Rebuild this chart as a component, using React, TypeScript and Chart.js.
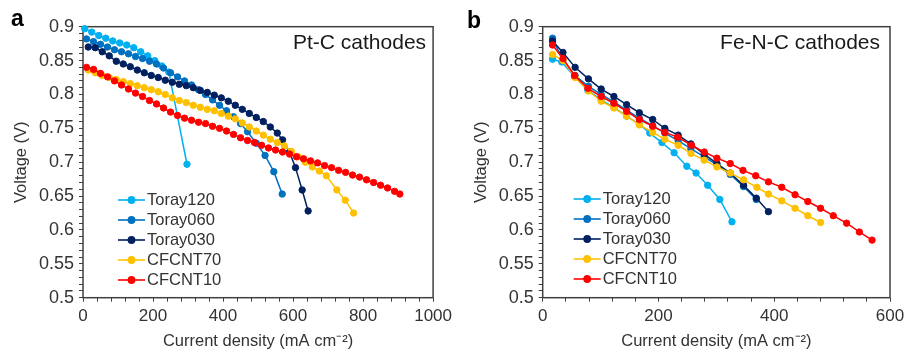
import React, { useEffect, useRef } from 'react';
import { Chart, registerables } from 'chart.js';

Chart.register(...registerables);

const FONT = "'Liberation Sans', Arial, sans-serif";
const TEXT = '#333333';

const SERIES_NAMES = ['Toray120', 'Toray060', 'Toray030', 'CFCNT70', 'CFCNT10'];
const SERIES_COLORS = ['#00B0F0', '#0070C0', '#002060', '#FFC000', '#FF0000'];

const Y_MAJOR = [0.5, 0.55, 0.6, 0.65, 0.7, 0.75, 0.8, 0.85, 0.9];
const A_X_MAJOR = [0, 200, 400, 600, 800, 1000];
const B_X_MAJOR = [0, 200, 400, 600];

// ---- Panel a: Pt-C cathodes ----
const A_T120_X = [5, 25, 45, 65, 85, 105, 125, 145, 165, 185, 205, 225, 245, 297];
const A_T120_Y = [0.897, 0.892, 0.887, 0.883, 0.879, 0.876, 0.873, 0.869, 0.863, 0.857, 0.85, 0.842, 0.833, 0.697];

const A_T060_X = [10, 30, 50, 70, 90, 110, 130, 150, 170, 190, 210, 230, 250, 270, 290, 310, 330, 350, 370, 390, 410, 430, 450, 470, 495, 520, 545, 569];
const A_T060_Y = [0.882, 0.878, 0.874, 0.87, 0.866, 0.863, 0.86, 0.856, 0.853, 0.849, 0.845, 0.839, 0.832, 0.826, 0.82, 0.814, 0.807, 0.8, 0.792, 0.784, 0.776, 0.767, 0.757, 0.745, 0.728, 0.71, 0.686, 0.653];

const A_T030_X = [15, 35, 55, 75, 95, 115, 135, 155, 175, 195, 215, 235, 255, 275, 295, 315, 335, 355, 375, 395, 415, 435, 455, 475, 495, 515, 535, 555, 570, 590, 607, 626, 643];
const A_T030_Y = [0.87, 0.869, 0.863, 0.857, 0.849, 0.845, 0.841, 0.836, 0.832, 0.828, 0.825, 0.821, 0.818, 0.815, 0.813, 0.81, 0.806, 0.803, 0.799, 0.795, 0.79, 0.784, 0.778, 0.772, 0.766, 0.76, 0.752, 0.743, 0.733, 0.715, 0.692, 0.659, 0.628];

const A_C70_X = [15, 35, 55, 75, 95, 115, 135, 155, 175, 195, 215, 235, 255, 275, 295, 315, 335, 355, 375, 395, 415, 435, 455, 475, 495, 515, 535, 555, 575, 595, 615, 635, 655, 675, 695, 725, 749, 773];
const A_C70_Y = [0.836, 0.832, 0.828, 0.825, 0.822, 0.819, 0.816, 0.813, 0.81, 0.807, 0.804, 0.8, 0.795, 0.791, 0.788, 0.784, 0.781, 0.778, 0.776, 0.772, 0.768, 0.764, 0.758, 0.752, 0.746, 0.74, 0.734, 0.729, 0.724, 0.716, 0.708, 0.7, 0.693, 0.687, 0.68, 0.659, 0.644, 0.625];

const A_C10_X = [10, 30, 50, 70, 90, 110, 130, 150, 170, 190, 210, 230, 250, 270, 290, 310, 330, 350, 370, 390, 410, 430, 450, 470, 490, 510, 530, 550, 570, 590, 610, 630, 650, 670, 690, 710, 730, 750, 770, 790, 810, 830, 850, 870, 890, 905];
const A_C10_Y = [0.84, 0.837, 0.831, 0.826, 0.82, 0.814, 0.808, 0.802, 0.797, 0.791, 0.786, 0.78, 0.774, 0.769, 0.765, 0.762, 0.759, 0.757, 0.753, 0.75, 0.746, 0.741, 0.736, 0.732, 0.729, 0.725, 0.721, 0.718, 0.715, 0.712, 0.708, 0.705, 0.702, 0.699, 0.695, 0.692, 0.688, 0.685, 0.681, 0.678, 0.674, 0.67, 0.666, 0.662, 0.657, 0.653];

// ---- Panel b: Fe-N-C cathodes ----
const B_T120_X = [17, 33, 55, 78, 101, 123, 145, 167, 185, 206, 227, 249, 265, 285, 306, 327];
const B_T120_Y = [0.852, 0.848, 0.826, 0.806, 0.792, 0.781, 0.768, 0.756, 0.743, 0.729, 0.714, 0.694, 0.684, 0.666, 0.645, 0.612];

const B_T060_X = [17, 35, 56, 79, 101, 123, 145, 167, 190, 211, 234, 256, 279, 301, 324, 347, 369];
const B_T060_Y = [0.883, 0.85, 0.828, 0.812, 0.8, 0.789, 0.777, 0.765, 0.754, 0.743, 0.732, 0.72, 0.708, 0.696, 0.682, 0.664, 0.645];

const B_T030_X = [17, 35, 56, 79, 101, 123, 145, 167, 190, 211, 234, 256, 279, 301, 324, 347, 369, 390];
const B_T030_Y = [0.879, 0.862, 0.84, 0.823, 0.808, 0.797, 0.785, 0.773, 0.763, 0.75, 0.74, 0.727, 0.712, 0.698, 0.684, 0.666, 0.647, 0.627];

const B_C70_X = [17, 35, 56, 79, 101, 123, 145, 167, 190, 211, 234, 256, 279, 301, 324, 347, 370, 390, 413, 436, 458, 480];
const B_C70_Y = [0.859, 0.85, 0.825, 0.805, 0.79, 0.78, 0.768, 0.755, 0.744, 0.734, 0.725, 0.713, 0.703, 0.693, 0.684, 0.674, 0.663, 0.653, 0.643, 0.632, 0.621, 0.611];

const B_C10_X = [17, 35, 55, 78, 101, 123, 145, 167, 190, 211, 233, 257, 279, 301, 324, 346, 368, 390, 413, 436, 458, 480, 502, 525, 547, 569];
const B_C10_Y = [0.873, 0.853, 0.828, 0.809, 0.797, 0.787, 0.775, 0.763, 0.753, 0.744, 0.737, 0.725, 0.715, 0.706, 0.698, 0.688, 0.68, 0.671, 0.663, 0.652, 0.642, 0.632, 0.621, 0.61, 0.597, 0.585];

const A_SERIES = [[A_T120_X, A_T120_Y], [A_T060_X, A_T060_Y], [A_T030_X, A_T030_Y], [A_C70_X, A_C70_Y], [A_C10_X, A_C10_Y]];
const B_SERIES = [[B_T120_X, B_T120_Y], [B_T060_X, B_T060_Y], [B_T030_X, B_T030_Y], [B_C70_X, B_C70_Y], [B_C10_X, B_C10_Y]];

const isIn = (arr: number[], v: number) => arr.some((m) => Math.abs(m - v) < 1e-6);

type PanelCfg = {
  letter: string;
  note: string;
  series: number[][][];
  xMax: number;
  xMajor: number[];
  canvasLeft: number;
  canvasWidth: number;
  padLeft: number;
  yAxisWidth: number;
  padRight: number;
  legendDX: number;
  legendY0: number;
  letterX: number;
  letterY: number;
  noteDX: number;
};

function makeDecor(cfg: PanelCfg) {
  return {
    id: 'decor',
    beforeDatasetsDraw(chart: any) {
      const { ctx, chartArea: ca } = chart;
      ctx.save();
      ctx.strokeStyle = '#404040';
      ctx.lineWidth = 1.5;
      ctx.strokeRect(ca.left, ca.top, ca.right - ca.left, ca.bottom - ca.top);
      ctx.restore();
    },
    afterDraw(chart: any) {
      const { ctx, chartArea: ca } = chart;
      ctx.save();
      ctx.fillStyle = '#000';
      ctx.font = `bold 23px ${FONT}`;
      ctx.textAlign = 'left';
      ctx.textBaseline = 'alphabetic';
      ctx.fillText(cfg.letter, cfg.letterX, cfg.letterY);

      ctx.fillStyle = '#1a1a1a';
      ctx.font = `21px ${FONT}`;
      ctx.textAlign = 'right';
      ctx.textBaseline = 'middle';
      ctx.fillText(cfg.note, ca.right - cfg.noteDX, ca.top + 16.5);

      ctx.font = `16.5px ${FONT}`;
      chart.data.datasets.forEach((ds: any, i: number) => {
        const y = cfg.legendY0 + i * 20;
        const x0 = ca.left + cfg.legendDX;
        ctx.strokeStyle = ds.borderColor;
        ctx.lineWidth = 1.6;
        ctx.beginPath();
        ctx.moveTo(x0, y);
        ctx.lineTo(x0 + 27, y);
        ctx.stroke();
        ctx.fillStyle = ds.borderColor;
        ctx.beginPath();
        ctx.arc(x0 + 13.5, y, 3.9, 0, Math.PI * 2);
        ctx.fill();
        ctx.fillStyle = TEXT;
        ctx.textAlign = 'left';
        ctx.textBaseline = 'middle';
        ctx.fillText(ds.label, x0 + 29, y + 0.5);
      });
      ctx.restore();
    },
  };
}

function Panel({ cfg }: { cfg: PanelCfg }) {
  const ref = useRef<HTMLCanvasElement | null>(null);
  useEffect(() => {
    if (!ref.current) return;
    const datasets = cfg.series.map(([xs, ys], i) => ({
      label: SERIES_NAMES[i],
      data: xs.map((x, j) => ({ x, y: ys[j] })),
      showLine: true,
      borderColor: SERIES_COLORS[i],
      backgroundColor: SERIES_COLORS[i],
      pointBackgroundColor: SERIES_COLORS[i],
      pointBorderColor: SERIES_COLORS[i],
      pointRadius: 3.2,
      pointBorderWidth: 1,
      borderWidth: 1.5,
      clip: false,
      order: 5 - i,
    }));
    const chart = new Chart(ref.current, {
      type: 'scatter',
      data: { datasets },
      plugins: [makeDecor(cfg)],
      options: {
        animation: false,
        responsive: false,
        devicePixelRatio: 1,
        layout: { padding: { left: cfg.padLeft, right: cfg.padRight, top: 26.7, bottom: 2.4 } },
        plugins: { legend: { display: false }, tooltip: { enabled: false } },
        scales: {
          x: {
            type: 'linear',
            min: 0,
            max: cfg.xMax,
            afterFit: (s: any) => { s.height = 57.9; },
            border: { display: false },
            grid: { display: true, drawOnChartArea: false, drawTicks: true, tickLength: 4, color: '#404040', lineWidth: 1 },
            ticks: {
              stepSize: 40,
              autoSkip: false,
              maxRotation: 0,
              padding: 4,
              color: TEXT,
              font: { family: FONT, size: 17 },
              callback: (v: any) => (isIn(cfg.xMajor, Number(v)) ? String(Math.round(Number(v))) : ''),
            },
            title: { display: true, text: 'Current density (mA cm⁻²)', color: TEXT, font: { family: FONT, size: 16.5 }, padding: { top: 4, bottom: 4 } },
          },
          y: {
            type: 'linear',
            min: 0.5,
            max: 0.9,
            afterFit: (s: any) => { s.width = cfg.yAxisWidth; },
            border: { display: false },
            grid: { display: true, drawOnChartArea: false, drawTicks: true, tickLength: 4, color: '#404040', lineWidth: 1 },
            ticks: {
              stepSize: 0.01,
              autoSkip: false,
              padding: 5,
              color: TEXT,
              font: { family: FONT, size: 18 },
              callback: (v: any) => {
                const n = Math.round(Number(v) * 100) / 100;
                return isIn(Y_MAJOR, n) ? String(n) : '';
              },
            },
            title: { display: true, text: 'Voltage (V)', color: TEXT, font: { family: FONT, size: 16.5 }, padding: { top: 4, bottom: 4 } },
          },
        },
      } as any,
    });
    return () => chart.destroy();
  }, [cfg]);
  return (
    <canvas
      ref={ref}
      width={cfg.canvasWidth}
      height={358}
      style={{ position: 'absolute', left: cfg.canvasLeft, top: 0, width: cfg.canvasWidth, height: 358 }}
    />
  );
}

const PANEL_A: PanelCfg = {
  letter: 'a',
  note: 'Pt-C cathodes',
  series: A_SERIES,
  xMax: 1000,
  xMajor: A_X_MAJOR,
  canvasLeft: 0,
  canvasWidth: 456,
  padLeft: 8,
  yAxisWidth: 75,
  padRight: 20.5,
  legendDX: 35,
  legendY0: 200,
  letterX: 11,
  letterY: 26,
  noteDX: 7,
};

const PANEL_B: PanelCfg = {
  letter: 'b',
  note: 'Fe-N-C cathodes',
  series: B_SERIES,
  xMax: 600,
  xMajor: B_X_MAJOR,
  canvasLeft: 456,
  canvasWidth: 453,
  padLeft: 11.8,
  yAxisWidth: 74.9,
  padRight: 19,
  legendDX: 31,
  legendY0: 199,
  letterX: 11,
  letterY: 27.5,
  noteDX: 10,
};

export default function App() {
  return (
    <div style={{ position: 'fixed', left: 0, top: 0, width: 909, height: 358, background: '#fff' }}>
      <Panel cfg={PANEL_A} />
      <Panel cfg={PANEL_B} />
    </div>
  );
}
